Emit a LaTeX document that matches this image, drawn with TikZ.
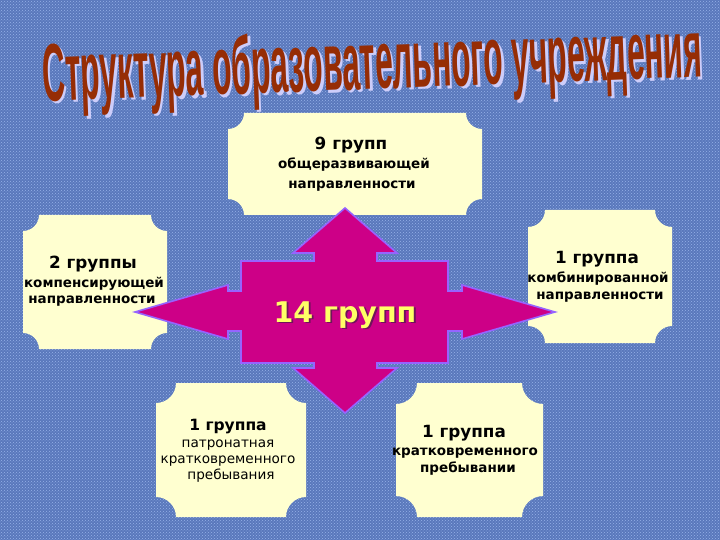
\documentclass[tikz,border=0pt]{standalone}
\usepackage{fontspec}
\setmainfont{DejaVu Sans}
\newfontfamily\titlefont{Liberation Sans}
\usetikzlibrary{patterns}

\definecolor{bgblue}{RGB}{90,120,188}
\definecolor{bgdot}{RGB}{150,178,232}
\definecolor{plaquefill}{RGB}{255,255,208}
\definecolor{crossfill}{RGB}{205,0,135}
\definecolor{crossline}{RGB}{150,100,255}
\definecolor{titlered}{RGB}{150,45,5}
\definecolor{titleshadow}{RGB}{205,205,250}
\definecolor{numyellow}{RGB}{255,255,102}
\definecolor{numshadow}{RGB}{110,20,90}

\newcommand\titletxt{\resizebox{660pt}{60pt}{\titlefont\bfseries Структура образовательного учреждения}}
\newcommand\plaque[5]{%
  \fill[plaque] (#1+#5,#2) -- (#3-#5,#2) arc[start angle=180,end angle=90,radius=#5]
    -- (#3,#4-#5) arc[start angle=270,end angle=180,radius=#5]
    -- (#1+#5,#4) arc[start angle=0,end angle=-90,radius=#5]
    -- (#1,#2+#5) arc[start angle=90,end angle=0,radius=#5] -- cycle;}

\tikzset{
  plaque/.style={fill=plaquefill},
  crossshape/.style={fill=crossfill, draw=crossline, line width=1.6pt, line join=miter},
  titletext/.style={anchor=base, inner sep=0pt, rotate=2.1},
  headline/.style={font=\bfseries\fontsize{16.8}{18}\selectfont, anchor=mid, inner sep=0pt},
  bodyline/.style={font=\bfseries\fontsize{13.5}{15}\selectfont, anchor=mid, inner sep=0pt},
  thinline/.style={font=\fontsize{13.6}{15}\selectfont, anchor=mid, inner sep=0pt},
  bignum/.style={font=\bfseries\fontsize{28.5}{30}\selectfont, anchor=base, inner sep=0pt},
}

\begin{document}
\begin{tikzpicture}[x=1pt,y=-1pt]
\useasboundingbox (0,0) rectangle (720,540);
% background
\fill[bgblue] (0,0) rectangle (720,540);
\fill[pattern=crosshatch dots, pattern color=bgdot] (0,0) rectangle (720,540);

% title
\node[titletext, text=titleshadow] (tshadow) at (375.5,91.5) {\titletxt};
\node[titletext, text=titlered] (title) at (373,89) {\titletxt};

% plaques
\plaque{228}{113}{482}{215}{16}
\plaque{23}{215}{167}{349}{16}
\plaque{528}{210}{672}{343}{17}
\plaque{156}{383}{306}{517}{20}
\plaque{396}{383}{543}{517}{21}

% central cross
\draw[crossshape] (345,208) -- (397,253) -- (377,253) -- (377,261) -- (448,261)
  -- (448,291) -- (462,291) -- (462,285) -- (555,312) -- (462,339) -- (462,331)
  -- (448,331) -- (448,363) -- (377,363) -- (377,368) -- (397,368) -- (345,413)
  -- (293,368) -- (314,368) -- (314,363) -- (241,363) -- (241,331) -- (228,331)
  -- (228,339) -- (135,312) -- (228,285) -- (228,291) -- (241,291) -- (241,261)
  -- (314,261) -- (314,253) -- (293,253) -- cycle;
\node[bignum, text=numshadow] (numshadow) at (346.8,323.8) {14 групп};
\node[bignum, text=numyellow] (num) at (345,322) {14 групп};

% top box text
\node[headline] (t1) at (351,147) {9 групп};
\node[bodyline] (t2) at (354,166) {общеразвивающей};
\node[bodyline] (t3) at (352,186) {направленности};
% left box text
\node[headline] (l1) at (93,266) {2 группы};
\node[bodyline] (l2) at (94,285) {компенсирующей};
\node[bodyline] (l3) at (92,301) {направленности};
% right box text
\node[headline] (r1) at (597,261) {1 группа};
\node[bodyline] (r2) at (598,280) {комбинированной};
\node[bodyline] (r3) at (600,297) {направленности};
% bottom-left box text
\node[headline, font=\bfseries\fontsize{15.5}{17}\selectfont] (bl1) at (228,428) {1 группа};
\node[thinline] (bl2) at (228,445) {патронатная};
\node[thinline] (bl3) at (228,461) {кратковременного};
\node[thinline] (bl4) at (231,477) {пребывания};
% bottom-right box text
\node[headline] (br1) at (464,435) {1 группа};
\node[bodyline] (br2) at (465,453) {кратковременного};
\node[bodyline] (br3) at (468,470) {пребывании};
\end{tikzpicture}
\end{document}
